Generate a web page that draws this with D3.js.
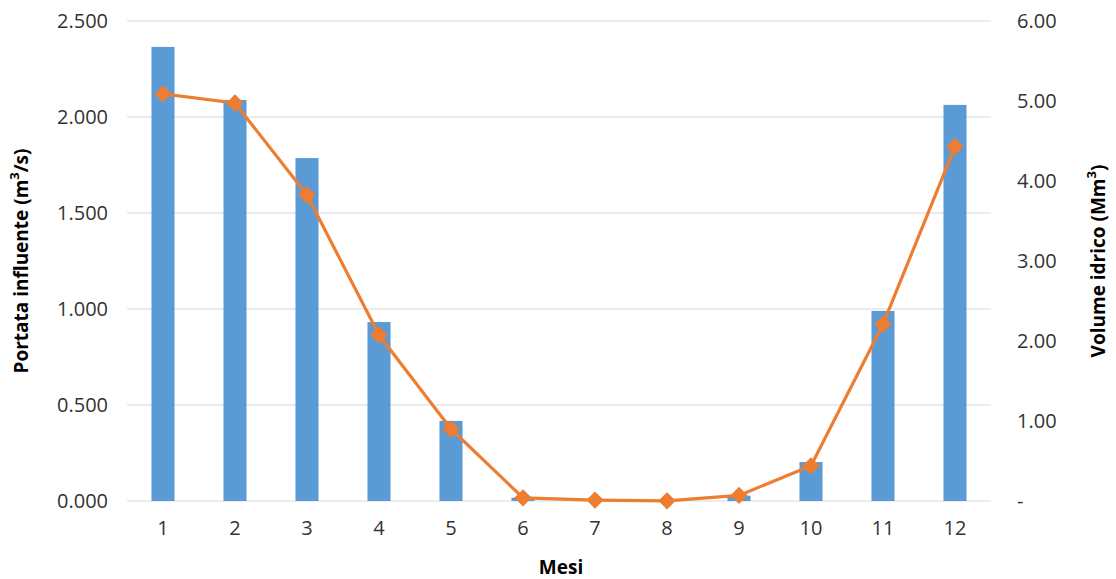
<!DOCTYPE html>
<html><head><meta charset="utf-8">
<script src="https://cdn.jsdelivr.net/npm/d3@7"></script>
<style>body{margin:0;background:#fff}text{font-family:"Open Sans","Liberation Sans",sans-serif}</style>
</head><body><svg id="c" width="1116" height="579"></svg>
<script>
const months = ["1","2","3","4","5","6","7","8","9","10","11","12"];
const portata = [2.365,2.089,1.786,0.932,0.417,0.017,0.003,0.001,0.028,0.203,0.99,2.063];
const volume = [5.09,4.975,3.825,2.075,0.9,0.04,0.012,0.002,0.07,0.44,2.21,4.43];
const leftTicks = [0,0.5,1,1.5,2,2.5];
const rightTicks = [0,1,2,3,4,5,6];

const svg = d3.select("#c");
const m = {l:127, r:991, t:21, b:501};
const x = d3.scaleBand().domain(months).range([m.l,m.r]).paddingInner(0.68).paddingOuter(0.34);
const xc = d => x(d)+x.bandwidth()/2;
const yL = d3.scaleLinear().domain([0,2.5]).range([m.b,m.t]);
const yR = d3.scaleLinear().domain([0,6]).range([m.b,m.t]);

// grid
svg.append("g").selectAll("line").data(leftTicks).join("line")
  .attr("x1",m.l).attr("x2",m.r).attr("y1",d=>yL(d)).attr("y2",d=>yL(d))
  .attr("stroke","#d9d9d9").attr("stroke-width",1);

// left axis
const fmtL = d3.format(".3f");
const gl = svg.append("g").attr("transform",`translate(${m.l},0)`)
  .call(d3.axisLeft(yL).tickValues(leftTicks).tickFormat(fmtL).tickSize(0).tickPadding(19));
gl.select(".domain").remove();
gl.selectAll("text").attr("font-size",20).attr("fill","#333");

// right axis
const gr = svg.append("g").attr("transform",`translate(${m.r},0)`)
  .call(d3.axisRight(yR).tickValues(rightTicks).tickFormat(d=>d===0?"-":d3.format(".2f")(d)).tickSize(0).tickPadding(26));
gr.select(".domain").remove();
gr.selectAll("text").attr("font-size",20).attr("fill","#333");

// x axis
const gx = svg.append("g").attr("transform",`translate(0,${m.b})`)
  .call(d3.axisBottom(x).tickSize(0).tickPadding(20));
gx.select(".domain").remove();
gx.selectAll("text").attr("font-size",20).attr("fill","#333");

// bars
svg.append("g").selectAll("rect").data(portata).join("rect")
  .attr("x",(d,i)=>x(months[i])).attr("width",x.bandwidth())
  .attr("y",d=>yL(d)).attr("height",d=>m.b-yL(d)).attr("fill","#5b9bd5");

// line
const line = d3.line().x((d,i)=>xc(months[i])).y(d=>yR(d));
svg.append("path").datum(volume).attr("d",line).attr("fill","none")
  .attr("stroke","#ed7d31").attr("stroke-width",3.2).attr("stroke-linejoin","round");
svg.append("g").selectAll("path").data(volume).join("path")
  .attr("d",d3.symbol(d3.symbolSquare,150)())
  .attr("transform",(d,i)=>`translate(${xc(months[i])},${yR(d)}) rotate(45)`)
  .attr("fill","#ed7d31");

// titles
svg.append("text").attr("transform",`translate(28,${(m.t+m.b)/2}) rotate(-90)`)
  .attr("text-anchor","middle").attr("font-size",19).attr("font-weight","bold").attr("fill","#000")
  .html('Portata influente (m<tspan baseline-shift="super" font-size="13">3</tspan>/s)');
svg.append("text").attr("transform",`translate(1105,${(m.t+m.b)/2}) rotate(-90)`)
  .attr("text-anchor","middle").attr("font-size",19).attr("font-weight","bold").attr("fill","#000")
  .html('Volume idrico (Mm<tspan baseline-shift="super" font-size="13">3</tspan>)');
svg.append("text").attr("x",(m.l+m.r)/2+2).attr("y",574).attr("text-anchor","middle")
  .attr("font-size",19).attr("font-weight","bold").attr("fill","#000").text("Mesi");
</script></body></html>
